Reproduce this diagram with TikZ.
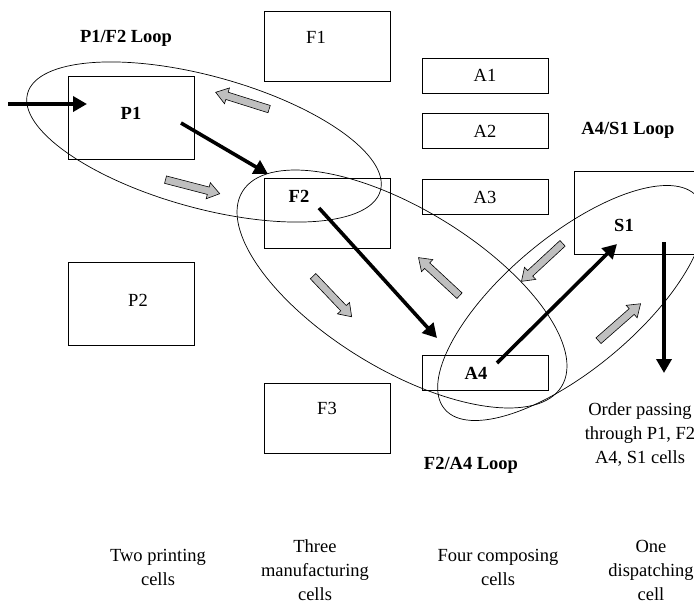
\documentclass[tikz,border=0pt]{standalone}
\usepackage{fontspec}
\setmainfont{Liberation Serif}
\usetikzlibrary{arrows.meta,positioning,shapes.arrows}
\tikzset{
    %Define style for cells
    cell/.style={
           rectangle,
           draw=black, line width=0.9pt,
           minimum width=126pt,
           minimum height=70pt,
           inner sep=0pt,
           font=\fontsize{18.5}{24}\selectfont},
    %Define style for texts
    celltext/.style={
           inner sep=0pt,
           align=center,
           font=\fontsize{18.5}{24}\selectfont},
    boldtext/.style={
           inner sep=0pt,
           align=center,
           font=\fontsize{18.5}{24}\selectfont\bfseries},
    %Define style for loops
    loopline/.style={
           draw=black, line width=0.7pt},
    % Define arrow styles
    flow/.style={
           -{Triangle[length=14pt,width=15pt]},
           line width=3.6pt},
    move/.style={
           single arrow, draw=black, line width=0.6pt,
           fill=black!25,
           minimum height=56pt,
           single arrow head extend=4.5pt,
           single arrow tip angle=70,
           inner sep=3.5pt,
           sloped, allow upside down}
}
\begin{document}
\begin{tikzpicture}[x=1pt,y=-1pt]
\useasboundingbox (0,0) rectangle (694,603);
 %cells
\node[cell, minimum height=83pt](P1) at (131,117.5){};
\node[cell, minimum height=83pt](P2) at (131.5,303.5){};
\node[cell](F1) at (327,46){};
\node[cell](F2) at (327,213){};
\node[cell](F3) at (327,418){};
\node[cell, minimum height=35pt](A1) at (485,75.5){A1};
\node[cell, minimum height=35pt, below=20pt of A1](A2){A2};
\node[cell, minimum height=35pt, below=30pt of A2](A3){A3};
\node[cell, minimum height=35pt](A4) at (485,372.5){};
\node[cell, minimum height=83pt](S1) at (637,212.5){};
 %cell names
\node[boldtext](tP1) at (131,113){P1};
\node[celltext](tP2) at (138,300){P2};
\node[celltext](tF1) at (316,37){F1};
\node[boldtext](tF2) at (299,196){F2};
\node[celltext](tF3) at (327,408){F3};
\node[boldtext](tA4) at (476,373){A4};
\node[boldtext](tS1) at (624,225){S1};
 %loops
\draw[loopline] (204,142) circle[x radius=183pt, y radius=66pt, rotate=-15.4];
\draw[loopline] (402,289) circle[x radius=187pt, y radius=80pt, rotate=-31.4];
\draw[loopline] (571,303) circle[x radius=165pt, y radius=66pt, rotate=40];
\node[boldtext](l1) at (126,38){P1/F2 Loop};
\node[boldtext](l2) at (471,465){F2/A4 Loop};
\node[boldtext](l3) at (628,130){A4/S1 Loop};
 %order route
\coordinate (in) at (8,104);
\coordinate (p1in) at (87,104);
\coordinate (p1out) at (181,123);
\coordinate (f2in) at (268,174);
\coordinate (f2out) at (319,208);
\coordinate (a4in) at (437,338);
\coordinate (a4out) at (497,363);
\coordinate (s1in) at (617,244);
\coordinate (s1out) at (664,242);
\coordinate (out) at (664,373);
\path (in) edge[flow] (p1in)
    (p1out) edge[flow] (f2in)
    (f2out) edge[flow] (a4in)
    (a4out) edge[flow] (s1in)
    (s1out) edge[flow] (out);
 %feedback moves
\coordinate (g1a) at (272,110); \coordinate (g1b) at (218,93);
\coordinate (g2a) at (163,179); \coordinate (g2b) at (217,193);
\coordinate (g3a) at (311,274); \coordinate (g3b) at (350,315);
\coordinate (g4a) at (462,298); \coordinate (g4b) at (420,259);
\coordinate (g5a) at (564,242); \coordinate (g5b) at (524,279);
\coordinate (g6a) at (597,342); \coordinate (g6b) at (638,306);
\path (g1a) -- (g1b) node[move, midway](m1){};
\path (g2a) -- (g2b) node[move, midway](m2){};
\path (g3a) -- (g3b) node[move, midway](m3){};
\path (g4a) -- (g4b) node[move, midway](m4){};
\path (g5a) -- (g5b) node[move, midway](m5){};
\path (g6a) -- (g6b) node[move, midway](m6){};
 %captions
\node[celltext](out text) at (640,434){Order passing\\through P1, F2\\A4, S1 cells};
\node[celltext](c1) at (158,567){Two printing\\cells};
\node[celltext](c2) at (315,570){Three\\manufacturing\\cells};
\node[celltext](c3) at (498,567){Four composing\\cells};
\node[celltext](c4) at (651,570){One\\dispatching\\cell};
\end{tikzpicture}
\end{document}
